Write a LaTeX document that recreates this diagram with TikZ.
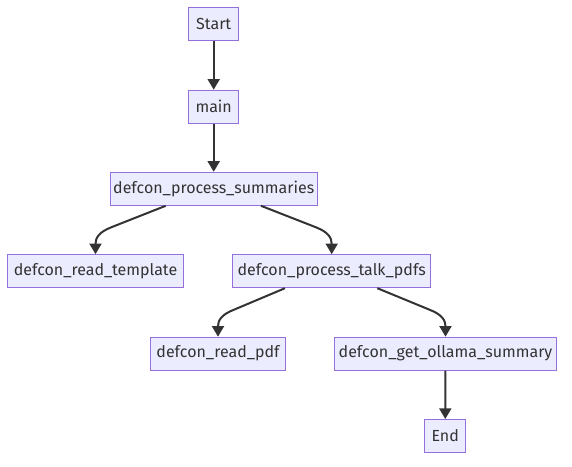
\documentclass[tikz,border=0pt]{standalone}
\usepackage{fontspec}
\setmainfont{Fira Sans}
\usetikzlibrary{arrows.meta,calc}
\definecolor{boxfill}{HTML}{ECECFF}
\definecolor{boxline}{HTML}{9370DB}
\definecolor{edgecol}{HTML}{333333}
\definecolor{txt}{HTML}{333333}
\tikzset{
  box/.style={draw=boxline, fill=boxfill, line width=0.75pt, rectangle, inner sep=0pt,
    minimum height=33*0.75pt, text=txt, font=\fontsize{12}{14}\selectfont},
  edge/.style={draw=edgecol, line width=1.5pt, -{Triangle[length=8pt,width=9pt]}}
}
\begin{document}
\begin{tikzpicture}[x=0.75pt,y=-0.75pt]
\useasboundingbox (0,0) rectangle (572,467);
\node[box, minimum width=50*0.75pt] (start) at (213.7,24.3) {Start};
\node[box, minimum width=50*0.75pt] (main) at (213.7,106.7) {main};
\node[box, minimum width=207*0.75pt] (summ) at (213.7,188.8) {defcon\_process\_summaries};
\node[box, minimum width=176*0.75pt] (tmpl) at (95.5,271.2) {defcon\_read\_template};
\node[box, minimum width=198*0.75pt] (talk) at (331.7,271.2) {defcon\_process\_talk\_pdfs};
\node[box, minimum width=135*0.75pt] (pdf) at (218,353.7) {defcon\_read\_pdf};
\node[box, minimum width=222*0.75pt] (olla) at (445.5,353.7) {defcon\_get\_ollama\_summary};
\node[box, minimum width=41*0.75pt] (end) at (445.2,436) {End};

\draw[edge] (start) -- (main);
\draw[edge] (main) -- (summ);
\draw[edge] (olla) -- (end);

\draw[edge] ($(summ.south)+(-48,0)$) -- ($(tmpl.north)+(16,-27)$)
  .. controls ($(tmpl.north)+(3,-22)$) and ($(tmpl.north)+(0,-16)$) .. (tmpl.north);
\draw[edge] ($(summ.south)+(47.3,0)$) -- ($(talk.north)+(-16,-27)$)
  .. controls ($(talk.north)+(-3,-22)$) and ($(talk.north)+(0,-16)$) .. (talk.north);
\draw[edge] ($(talk.south)+(-46.7,0)$) -- ($(pdf.north)+(16,-27)$)
  .. controls ($(pdf.north)+(3,-22)$) and ($(pdf.north)+(0,-16)$) .. (pdf.north);
\draw[edge] ($(talk.south)+(45.6,0)$) -- ($(olla.north)+(-16,-27)$)
  .. controls ($(olla.north)+(-3,-22)$) and ($(olla.north)+(0,-16)$) .. (olla.north);
\end{tikzpicture}
\end{document}
